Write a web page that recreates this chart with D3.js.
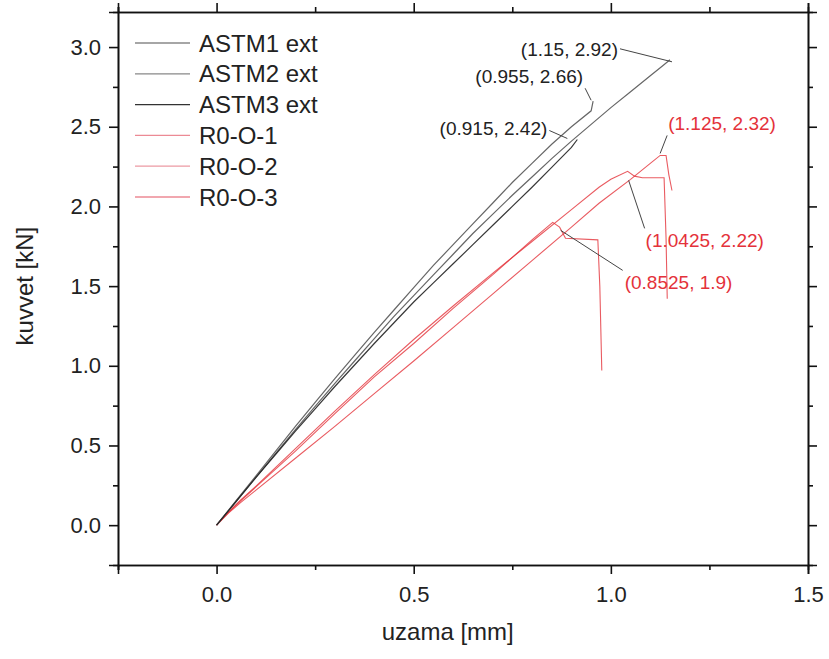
<!DOCTYPE html>
<html>
<head>
<meta charset="utf-8">
<script src="https://cdn.jsdelivr.net/npm/d3@7"></script>
<style>
  body { margin: 0; background: #fff; }
  text { font-family: "Liberation Sans", Arial, sans-serif; }
</style>
</head>
<body>
<svg id="chart" width="829" height="659"></svg>
<script>
// ---- data ----
const astm1X = [0, 0.05, 0.1, 0.15, 0.2, 0.25, 0.3, 0.35, 0.4, 0.45, 0.5, 0.55, 0.6, 0.65, 0.7, 0.75, 0.8, 0.85, 0.9, 0.95, 1.0, 1.05, 1.1, 1.13, 1.15];
const astm1Y = [0, 0.15, 0.30, 0.45, 0.60, 0.745, 0.89, 1.03, 1.17, 1.31, 1.44, 1.57, 1.70, 1.83, 1.95, 2.07, 2.185, 2.30, 2.41, 2.515, 2.62, 2.72, 2.82, 2.88, 2.92];
const astm2X = [0, 0.05, 0.1, 0.15, 0.2, 0.25, 0.3, 0.35, 0.4, 0.45, 0.5, 0.55, 0.6, 0.65, 0.7, 0.75, 0.8, 0.85, 0.9, 0.95, 0.955];
const astm2Y = [0, 0.155, 0.31, 0.465, 0.62, 0.77, 0.92, 1.065, 1.21, 1.35, 1.49, 1.63, 1.76, 1.89, 2.02, 2.15, 2.27, 2.39, 2.50, 2.60, 2.66];
const astm3X = [0, 0.05, 0.1, 0.15, 0.2, 0.25, 0.3, 0.35, 0.4, 0.45, 0.5, 0.55, 0.6, 0.65, 0.7, 0.75, 0.8, 0.85, 0.9, 0.915];
const astm3Y = [0, 0.15, 0.30, 0.445, 0.59, 0.73, 0.87, 1.005, 1.14, 1.27, 1.40, 1.52, 1.64, 1.76, 1.88, 2.00, 2.12, 2.245, 2.37, 2.42];
const r01X = [0, 0.03, 0.06, 0.1, 0.2, 0.3, 0.4, 0.5, 0.6, 0.7, 0.8, 0.9, 0.97, 1.0, 1.0425, 1.06, 1.08, 1.135, 1.14, 1.143];
const r01Y = [0, 0.08, 0.155, 0.245, 0.48, 0.715, 0.945, 1.165, 1.375, 1.58, 1.78, 1.98, 2.12, 2.17, 2.22, 2.19, 2.18, 2.18, 1.8, 1.42];
const r02X = [0, 0.03, 0.06, 0.1, 0.2, 0.3, 0.4, 0.5, 0.6, 0.7, 0.8, 0.8525, 0.87, 0.885, 0.967, 0.972, 0.977];
const r02Y = [0, 0.08, 0.15, 0.24, 0.465, 0.70, 0.93, 1.14, 1.36, 1.57, 1.79, 1.9, 1.87, 1.80, 1.79, 1.5, 0.97];
const r03X = [0, 0.03, 0.06, 0.1, 0.2, 0.3, 0.4, 0.5, 0.6, 0.7, 0.8, 0.9, 0.97, 1.05, 1.1, 1.125, 1.14, 1.147, 1.155];
const r03Y = [0, 0.075, 0.14, 0.22, 0.42, 0.62, 0.825, 1.03, 1.24, 1.45, 1.66, 1.87, 2.02, 2.17, 2.27, 2.32, 2.32, 2.2, 2.10];

const seriesNames = ['ASTM1 ext', 'ASTM2 ext', 'ASTM3 ext', 'R0-O-1', 'R0-O-2', 'R0-O-3'];
const xTicks = [0, 0.5, 1.0, 1.5];
const xMinorTicks = [-0.25, 0.25, 0.75, 1.25];
const yTicks = [0, 0.5, 1.0, 1.5, 2.0, 2.5, 3.0];
const yMinorTicks = [0.25, 0.75, 1.25, 1.75, 2.25, 2.75];

const peakLabels = ['(1.15, 2.92)', '(0.955, 2.66)', '(0.915, 2.42)', '(1.125, 2.32)', '(1.0425, 2.22)', '(0.8525, 1.9)'];
const peakX = [1.15, 0.955, 0.915, 1.125, 1.0425, 0.8525];
const peakY = [2.92, 2.66, 2.42, 2.32, 2.22, 1.9];

// ---- layout ----
let margin = { top: 12, left: 118, right: 21, bottom: 94 },
  width = 829 - margin.left - margin.right,
  height = 659 - margin.top - margin.bottom;

const red = '#e4323a';
const lineColors = ['#555', '#555', '#222', red, red, red];
const legendColors = ['#888', '#888', '#333', '#ec8a95', '#ec9aa3', '#ec8a95'];

let svg = d3.select('#chart');
let g = svg.append('g').attr('transform', 'translate(' + margin.left + ',' + margin.top + ')');

let x = d3.scaleLinear().domain([-0.25, 1.5]).range([0, width]);
let y = d3.scaleLinear().domain([-0.25, 3.22]).range([height, 0]);

function styleAxis(sel) {
  sel.select('.domain').attr('stroke', '#111').attr('stroke-width', 1.6);
  sel.selectAll('.tick line').attr('stroke', '#111').attr('stroke-width', 1.6);
  sel.selectAll('.tick text').attr('fill', '#222').style('font-size', '22px');
}

// major + minor ticks on all four sides (outward)
g.append('g').attr('transform', 'translate(0,' + height + ')')
  .call(d3.axisBottom(x).tickValues(xTicks).tickSize(9).tickPadding(12).tickFormat(d3.format('.1f')))
  .call(styleAxis);
g.append('g').attr('transform', 'translate(0,' + height + ')')
  .call(d3.axisBottom(x).tickValues(xMinorTicks).tickSize(5).tickFormat(''))
  .call(styleAxis);
g.append('g')
  .call(d3.axisTop(x).tickValues(xTicks).tickSize(9).tickFormat(''))
  .call(styleAxis);
g.append('g')
  .call(d3.axisTop(x).tickValues(xMinorTicks).tickSize(5).tickFormat(''))
  .call(styleAxis);

g.append('g')
  .call(d3.axisLeft(y).tickValues(yTicks).tickSize(9).tickPadding(8).tickFormat(d3.format('.1f')))
  .call(styleAxis);
g.append('g')
  .call(d3.axisLeft(y).tickValues(yMinorTicks).tickSize(5).tickFormat(''))
  .call(styleAxis);
g.append('g').attr('transform', 'translate(' + width + ',0)')
  .call(d3.axisRight(y).tickValues(yTicks).tickSize(9).tickFormat(''))
  .call(styleAxis);
g.append('g').attr('transform', 'translate(' + width + ',0)')
  .call(d3.axisRight(y).tickValues(yMinorTicks).tickSize(5).tickFormat(''))
  .call(styleAxis);

// axis titles
g.append('text')
  .attr('x', x(0.5) + 34)
  .attr('y', height + 75)
  .attr('text-anchor', 'middle')
  .attr('fill', '#222')
  .style('font-size', '24px')
  .text('uzama [mm]');

g.append('text')
  .attr('transform', 'rotate(-90)')
  .attr('x', -y(1.5))
  .attr('y', -85)
  .attr('text-anchor', 'middle')
  .attr('fill', '#222')
  .style('font-size', '24px')
  .text('kuvvet [kN]');

// curves
const allX = [astm1X, astm2X, astm3X, r01X, r02X, r03X];
const allY = [astm1Y, astm2Y, astm3Y, r01Y, r02Y, r03Y];

let line = d3.line()
  .x(d => x(d[0]))
  .y(d => y(d[1]));

let plot = g.append('g');
// draw red first so black sits on top near the origin
[3, 4, 5, 0, 1, 2].forEach(function(i) {
  let pts = allX[i].map((v, j) => [v, allY[i][j]]);
  plot.append('path')
    .datum(pts)
    .attr('fill', 'none')
    .attr('stroke', lineColors[i])
    .attr('stroke-width', i < 3 ? 1.2 : 1.1)
    .attr('stroke-opacity', i < 3 ? 0.9 : 0.8)
    .attr('d', line);
});

// legend
let legend = g.append('g');
seriesNames.forEach(function(name, i) {
  let ly = 31 + i * 30.8;
  legend.append('line')
    .attr('x1', 17).attr('x2', 72)
    .attr('y1', ly).attr('y2', ly)
    .attr('stroke', legendColors[i])
    .attr('stroke-width', 1.3);
  legend.append('text')
    .attr('x', 81)
    .attr('y', ly)
    .attr('dy', '0.36em')
    .attr('fill', '#222')
    .style('font-size', '24px')
    .text(name);
});

// peak annotations: text offset and leader start, relative to the peak point (px)
const annLayout = [
  { anchor: 'end',   tx: -52, ty: -11, lx1: -50, ly1: -11, lx2: 2,  ly2: 2 },
  { anchor: 'end',   tx: -10, ty: -25, lx1: -8,  ly1: -13, lx2: -2, ly2: -1 },
  { anchor: 'end',   tx: -30, ty: -11, lx1: -28, ly1: -9,  lx2: -10, ly2: -1 },
  { anchor: 'start', tx: 8,   ty: -32, lx1: 7,   ly1: -20, lx2: 0,  ly2: -2 },
  { anchor: 'start', tx: 18,  ty: 69,  lx1: 17,  ly1: 57,  lx2: 1,  ly2: 9 },
  { anchor: 'start', tx: 72,  ty: 60,  lx1: 70,  ly1: 48,  lx2: 8,  ly2: 8 }
];

let ann = g.append('g');
peakLabels.forEach(function(label, i) {
  let px = x(peakX[i]), py = y(peakY[i]), l = annLayout[i];
  ann.append('line')
    .attr('x1', px + l.lx1).attr('y1', py + l.ly1)
    .attr('x2', px + l.lx2).attr('y2', py + l.ly2)
    .attr('stroke', '#444')
    .attr('stroke-width', 1);
  ann.append('text')
    .attr('x', px + l.tx)
    .attr('y', py + l.ty)
    .attr('dy', '0.36em')
    .attr('text-anchor', l.anchor)
    .attr('fill', i < 3 ? '#222' : red)
    .style('font-size', '19px')
    .text(label);
});
</script>
</body>
</html>
